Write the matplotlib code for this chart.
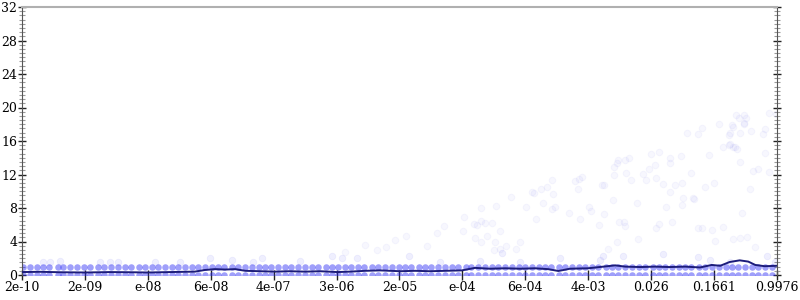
"""Recreate the log-x scatter with running mean (out.png, 800x300)."""

import matplotlib

matplotlib.use("Agg")
import matplotlib.pyplot as plt
import numpy as np
from matplotlib.ticker import FixedLocator, MultipleLocator

# x tick labels (equally spaced in log10 between the two end values)
x_first, x_last = 2e-10, 0.9976
x_labels = ["2e-10", "2e-09", "e-08", "6e-08", "4e-07", "3e-06", "2e-05",
            "e-04", "6e-04", "4e-03", "0.026", "0.1661", "0.9976"]

# dense rows of points at y=0 and y=1 (log10 of x)
band_logx = [
    -9.68, -9.6, -9.5, -9.43, -9.35, -9.24, -9.17, -9.08, -8.99, -8.9, -8.83,
    -8.72, -8.64, -8.55, -8.47, -8.38, -8.3, -8.2, -8.12, -8.03, -7.95, -7.86,
    -7.77, -7.7, -7.6, -7.52, -7.44, -7.35, -7.26, -7.18, -7.1, -7.0, -6.93,
    -6.84, -6.75, -6.66, -6.58, -6.5, -6.41, -6.32, -6.24, -6.15, -6.06,
    -5.98, -5.9, -5.8, -5.72, -5.64, -5.55, -5.47, -5.38, -5.3, -5.2, -5.12,
    -5.04, -4.95, -4.86, -4.78, -4.7, -4.6, -4.52, -4.44, -4.35, -4.26,
    -4.18, -4.1, -4.0, -3.93, -3.84, -3.75, -3.66, -3.58, -3.5, -3.41, -3.32,
    -3.24, -3.15, -3.06, -2.98, -2.9, -2.8, -2.72, -2.64, -2.55, -2.47,
    -2.38, -2.3, -2.2, -2.12, -2.04, -1.95, -1.86, -1.78, -1.7, -1.6, -1.52,
    -1.44, -1.35, -1.26, -1.18, -1.1, -1.0, -0.93, -0.84, -0.75, -0.66,
    -0.58, -0.5, -0.41, -0.32, -0.24, -0.15, -0.06,
]
band_levels = [0.0, 1.0]

# points just above the y=1 row
near_logx = [-9.43, -9.34, -9.21, -8.70, -8.57, -8.47, -7.99, -7.67, -7.28,
             -7.00, -6.73, -6.62, -6.13, -5.72, -5.59, -5.40, -4.73, -4.33,
             -3.82, -3.53, -3.30, -2.79, -2.28, -2.24, -1.98, -1.46, -1.01,
             -0.86, -0.61, -0.13, -0.03]
near_y = [1.55, 1.55, 1.67, 1.55, 1.55, 1.55, 1.55, 1.55, 2.03, 1.79, 1.55,
          2.03, 1.67, 2.27, 2.03, 2.03, 2.27, 1.55, 1.67, 2.63, 1.55, 2.03,
          1.79, 2.27, 2.27, 2.51, 2.15, 1.79, 1.55, 2.27, 1.55]

# sparse outliers (log10 x, y)
out_logx = [
    -5.55, -5.29, -5.14, -5.02, -4.91, -4.77, -4.50, -4.37, -4.28, -4.04,
    -4.02, -3.89, -3.86, -3.88, -3.80, -3.80, -3.75, -3.66, -3.61, -3.73,
    -3.80, -3.56, -3.62, -3.64, -3.56, -3.48, -3.35, -3.30, -3.42, -3.23,
    -3.15, -3.12, -3.03, -2.96, -3.01, -2.89, -2.88, -2.89, -2.85, -3.10,
    -2.67, -2.60, -2.56, -2.55, -2.51, -2.53, -2.42, -2.39, -2.25, -2.22,
    -2.29, -2.22, -2.11, -2.10, -2.06, -2.04, -2.10, -2.06, -2.17,
    -1.95, -1.90, -1.94, -1.87, -1.72, -1.69, -1.65, -1.57, -1.56, -1.62,
    -1.52, -1.37, -1.37, -1.24, -1.46, -1.31, -1.22, -1.38, -1.10, -1.16,
    -1.01, -0.97, -0.88, -0.74, -0.81, -0.92, -1.21, -1.22, -1.08, -1.07,
    -1.43, -1.80, -1.35, -1.52, -1.55, -1.97, -1.95, -2.03, -1.79, -1.01,
    -0.97, -0.84, -0.70, -0.80, -0.56, -0.48, -0.39, -0.29, -0.45, -0.35,
    -0.31, -0.25, -0.11, -0.16, -0.18, -0.16, -0.33, -0.47, -0.53, -0.49,
    -0.42, -0.42, -0.56, -0.58, -0.62, -0.57, -0.51, -0.62, -0.69, -0.48,
    -0.11, -0.01, -0.40, -0.43, -0.61, -0.61, -0.54,
]
out_y = [
    2.75, 3.58, 2.99, 3.34, 4.18, 4.66, 3.46, 5.01, 5.85, 5.25,
    6.93, 6.09, 5.97, 4.42, 8.00, 6.45, 6.21, 6.21, 8.24, 4.66,
    3.94, 5.25, 3.94, 2.99, 3.10, 3.46, 3.10, 3.94, 9.31, 8.12,
    9.91, 9.79, 10.27, 10.51, 8.60, 11.34, 9.67, 7.88, 8.12, 6.69,
    7.40, 11.22, 10.27, 11.46, 11.70, 6.69, 8.12, 7.64, 10.75, 10.75,
    5.97, 7.28, 8.96, 12.90, 13.37, 13.73, 11.94, 3.94, 3.10,
    13.73, 13.97, 12.18, 11.34, 12.06, 11.34, 12.66, 13.13, 11.58, 14.45,
    14.69, 13.97, 13.37, 14.21, 10.87, 10.75, 10.99, 9.91, 12.18, 16.96,
    16.84, 17.55, 14.33, 18.03, 10.99, 10.51, 9.19, 8.36, 9.19, 9.07,
    8.12, 8.60, 6.33, 6.09, 5.61, 6.33, 5.85, 6.33, 4.30, 5.61,
    5.61, 5.37, 5.73, 4.06, 4.30, 4.42, 4.54, 3.34, 7.40, 10.27,
    12.42, 12.66, 12.30, 14.57, 16.84, 17.43, 17.19, 16.96, 19.10, 18.75,
    19.10, 18.15, 17.67, 17.91, 16.72, 15.28, 15.04, 15.52, 15.28, 13.49,
    19.34, 19.22, 18.75, 18.03, 16.96, 15.64, 15.28,
]

# running mean line (log10 x, y)
mean_logx = [-9.70, -9.47, -9.21, -8.88, -8.57, -8.31, -8.08, -7.80, -7.48,
             -7.35, -7.22, -7.09, -6.96, -6.83, -6.64, -6.45, -6.26, -6.06,
             -5.87, -5.65, -5.49, -5.29, -5.10, -4.84, -4.65, -4.46, -4.26,
             -4.05, -3.88, -3.69, -3.49, -3.30, -3.11, -2.94, -2.81, -2.66,
             -2.43, -2.28, -2.08, -1.95, -1.76, -1.57, -1.38, -1.18, -0.99,
             -0.84, -0.73, -0.61, -0.48, -0.37, -0.28, -0.16, -0.00]
mean_y = [0.35, 0.38, 0.33, 0.30, 0.35, 0.33, 0.30, 0.35, 0.40,
          0.60, 0.70, 0.65, 0.70, 0.50, 0.45, 0.40, 0.45, 0.40,
          0.45, 0.35, 0.40, 0.50, 0.55, 0.45, 0.50, 0.45, 0.50,
          0.55, 0.85, 0.75, 0.80, 0.75, 0.80, 0.70, 0.48, 0.75,
          0.80, 0.95, 1.15, 1.00, 0.95, 1.00, 0.95, 1.00, 0.90,
          1.20, 1.10, 1.55, 1.75, 1.60, 1.20, 1.05, 1.10]


def main() -> None:
    plt.rcParams["font.family"] = "DejaVu Serif"
    fig = plt.figure(figsize=(8, 3), dpi=100)
    ax = fig.add_axes([22 / 800, 25 / 300, 755 / 800, 268 / 300])

    pt_color = "#2a2af5"
    bx = 10.0 ** np.array(band_logx)
    for level in band_levels:
        ax.scatter(bx, np.full_like(bx, level), s=22, color=pt_color,
                   alpha=0.45, linewidths=0, clip_on=True, zorder=2)
    ax.scatter(10.0 ** np.array(near_logx), near_y, s=22, color=pt_color,
               alpha=0.07, linewidths=0.6, zorder=2)
    ax.scatter(10.0 ** np.array(out_logx), out_y, s=22, facecolor=pt_color,
               edgecolor=pt_color, alpha=0.035, linewidths=0.8, zorder=2)
    ax.plot(10.0 ** np.array(mean_logx), mean_y, color="#1c1c7a",
            linewidth=1.4, zorder=3)

    ax.set_xscale("log")
    ax.set_xlim(x_first, x_last)
    ax.set_ylim(0, 32)
    ticks = np.geomspace(x_first, x_last, len(x_labels))
    ax.xaxis.set_major_locator(FixedLocator(ticks))
    ax.xaxis.set_minor_locator(FixedLocator([]))
    ax.set_xticklabels(x_labels)
    ax.yaxis.set_major_locator(MultipleLocator(4))
    ax.yaxis.set_minor_locator(MultipleLocator(0.5))

    ax.tick_params(axis="x", direction="inout", length=7, width=1,
                   color="#222222", labelsize=9, pad=1)
    ax.tick_params(axis="y", which="major", direction="inout", length=6,
                   width=1, color="#222222", labelsize=9, pad=0.5,
                   right=True)
    ax.tick_params(axis="y", which="minor", direction="inout", length=4.5,
                   width=0.8, color="#999999", right=True)

    ax.spines["top"].set_color("#b0b0b0")
    ax.spines["top"].set_linewidth(1.5)
    ax.spines["bottom"].set_visible(False)
    for side in ("left", "right"):
        ax.spines[side].set_color("#555555")
        ax.spines[side].set_linewidth(0.8)

    fig.savefig("out.png", dpi=100)
    plt.close(fig)


if __name__ == "__main__":
    main()
